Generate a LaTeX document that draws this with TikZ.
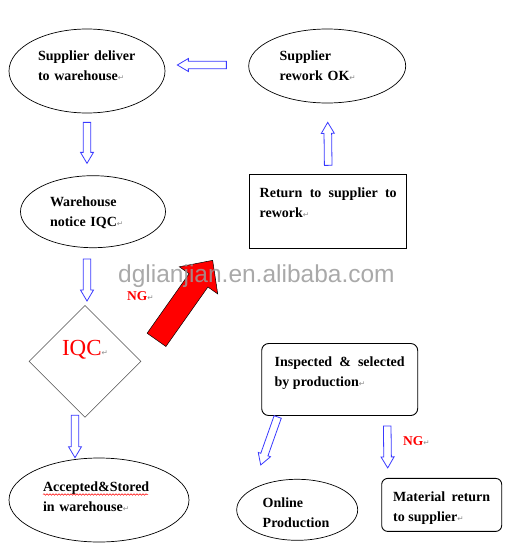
\documentclass[tikz,border=0pt]{standalone}
\usepackage{fontspec}
\setmainfont{Liberation Serif}
\setsansfont{Liberation Sans}
\newfontfamily\markfont{DejaVu Sans}
\usepackage{xcolor}
\usetikzlibrary{positioning, shapes.geometric, calc, decorations.pathmorphing}
\definecolor{carrow}{HTML}{3A3AFF}
\definecolor{cng}{HTML}{FF0000}
\definecolor{cmark}{HTML}{8C8C8C}
\definecolor{cwm}{HTML}{9A9A9A}
\newcommand{\parmark}{{\markfont\mdseries\fontsize{7.5}{7.5}\selectfont\textcolor{cmark}{↵}}}
\tikzset{
  txt/.style={font=\fontsize{14}{20}\selectfont\bfseries, inner sep=0pt},
  ovl/.style={txt, draw, ellipse, line width=0.7pt, align=left},
  sqbox/.style={txt, draw, line width=0.7pt, align=justify, inner ysep=10pt},
  rbox/.style={sqbox, rounded corners=7pt, line width=0.9pt},
  dia/.style={draw=black!70, diamond, aspect=1, inner sep=0pt, line width=0.6pt,
              minimum width=112pt, minimum height=112pt},
  ng/.style={text=cng, font=\fontsize{13.5}{14}\selectfont\bfseries, inner sep=0pt},
  blockarrow/.style n args={3}{to path={
      ($(\tikztostart)!#1!90:(\tikztotarget)$)
      -- ($($(\tikztotarget)!#3!(\tikztostart)$)!#1!-90:(\tikztostart)$)
      -- ($($(\tikztotarget)!#3!(\tikztostart)$)!#2!-90:(\tikztostart)$)
      -- (\tikztotarget)
      -- ($($(\tikztotarget)!#3!(\tikztostart)$)!#2!90:(\tikztostart)$)
      -- ($($(\tikztotarget)!#3!(\tikztostart)$)!#1!90:(\tikztostart)$)
      -- ($(\tikztostart)!#1!-90:(\tikztotarget)$) -- cycle}},
  hollow/.style={blockarrow={3.8pt}{6.5pt}{11pt}, draw=carrow, fill=white,
                 line width=0.8pt, line join=miter},
  bigarr/.style={blockarrow={11.5pt}{23.5pt}{24.5pt}, draw=black, fill=red,
                 line width=0.5pt, line join=miter},
  squiggle/.style={draw=red, line width=0.5pt,
                   decorate, decoration={snake, amplitude=0.8pt, segment length=3pt}},
}

\begin{document}
\begin{tikzpicture}[x=1pt, y=-1pt]
  \useasboundingbox (0,0) rectangle (515,549);
  % left column
  \node[ovl, minimum width=156pt, minimum height=84pt, text width=98pt,
        text height=10pt, text depth=32pt] (sup) at (87,71) {Supplier deliver\\to warehouse\parmark};
  \node[ovl, minimum width=145pt, minimum height=72pt, text width=86pt,
        text height=10pt, text depth=21pt, below=62pt of sup, xshift=6pt] (wh) {Warehouse\\notice IQC\parmark};
  \node[dia, below=57pt of wh, xshift=-8pt, text=cng, font=\fontsize{23}{24}\selectfont,
        text height=16pt, text depth=28pt] (iqc) {IQC\parmark};
  \node[ovl, minimum width=180pt, minimum height=84pt, text width=112pt,
        text height=10pt, text depth=28pt, below=40pt of iqc, xshift=14pt] (acc) {Accepted\&Stored\\in warehouse\parmark};
  % right column
  \node[ovl, minimum width=157pt, minimum height=74pt, text width=95pt,
        text height=10pt, text depth=22pt, right=83pt of sup, yshift=5pt] (rwk) {Supplier\\rework OK\parmark};
  \node[sqbox, inner xsep=10pt, text width=137pt, text height=13pt, text depth=41pt,
        below=71pt of rwk, xshift=1pt] (ret) {Return to supplier to rework\parmark};
  \node[rbox, inner xsep=13pt, text width=130pt, text height=13pt, text depth=39pt,
        below=94pt of ret, xshift=11.5pt] (insp) {Inspected \& selected by production\parmark};
  \node[ovl, minimum width=121pt, minimum height=61pt, text width=69pt,
        text height=10pt, text depth=15pt, below=63pt of insp, xshift=-42.5pt] (onl) {Online\\Production};
  \node[rbox, rounded corners=6pt, inner xsep=11.5pt, inner ysep=8pt, text width=97pt,
        text height=15pt, text depth=22pt, below=62pt of insp, xshift=102pt] (mat) {Material return to supplier\parmark};
  \node[ng, anchor=base west] (ng1) at (127,300) {NG\parmark};
  \node[ng, anchor=base west] (ng2) at (403,445) {NG\parmark};
  % spell-check mark
  \draw[squiggle] ($(acc.center)+(-56,-5.5)$) -- ($(acc.center)+(49,-5.5)$);
  % arrow ends
  \coordinate (a1s) at ($(rwk.west)+(-22,-1)$);
  \coordinate (a1e) at ($(sup.east)+(12,-6)$);
  \coordinate (a2s) at ($(sup.south)+(0,9)$);
  \coordinate (a2e) at ($(wh.north)+(-6,-12)$);
  \coordinate (a3s) at ($(wh.south)+(-6,11)$);
  \coordinate (a3e) at ($(iqc.north)+(2,-4)$);
  \coordinate (a4s) at ($(iqc.south)+(-10,-2.5)$);
  \coordinate (a4e) at ($(acc.north)+(-24,0)$);
  \coordinate (a5s) at ($(ret.north)+(0,-9)$);
  \coordinate (a5e) at ($(rwk.south)+(0.5,19)$);
  \coordinate (a6s) at ($(insp.south)+(-62,1)$);
  \coordinate (a6e) at ($(onl.north)+(-36.5,-14)$);
  \coordinate (a7s) at ($(insp.south)+(47.5,10)$);
  \coordinate (a7e) at ($(mat.north)+(-54,-10)$);
  \coordinate (rs) at ($(iqc.east)+(15.2,-21.5)$);
  \coordinate (re) at ($(ret.south west)+(-36.7,11.3)$);
  \draw[hollow] (a1s) to (a1e);
  \draw[hollow] (a2s) to (a2e);
  \draw[hollow] (a3s) to (a3e);
  \draw[hollow] (a4s) to (a4e);
  \draw[hollow] (a5s) to (a5e);
  \draw[hollow] (a6s) to (a6e);
  \draw[hollow] (a7s) to (a7e);
  \draw[bigarr] (rs) to (re);
  \node[anchor=base west, inner sep=0pt, text=cwm, text opacity=0.85,
        font=\sffamily\fontsize{24.5}{25}\selectfont] (wmark) at (118,282) {dglianjian.en.alibaba.com};
\end{tikzpicture}
\end{document}
